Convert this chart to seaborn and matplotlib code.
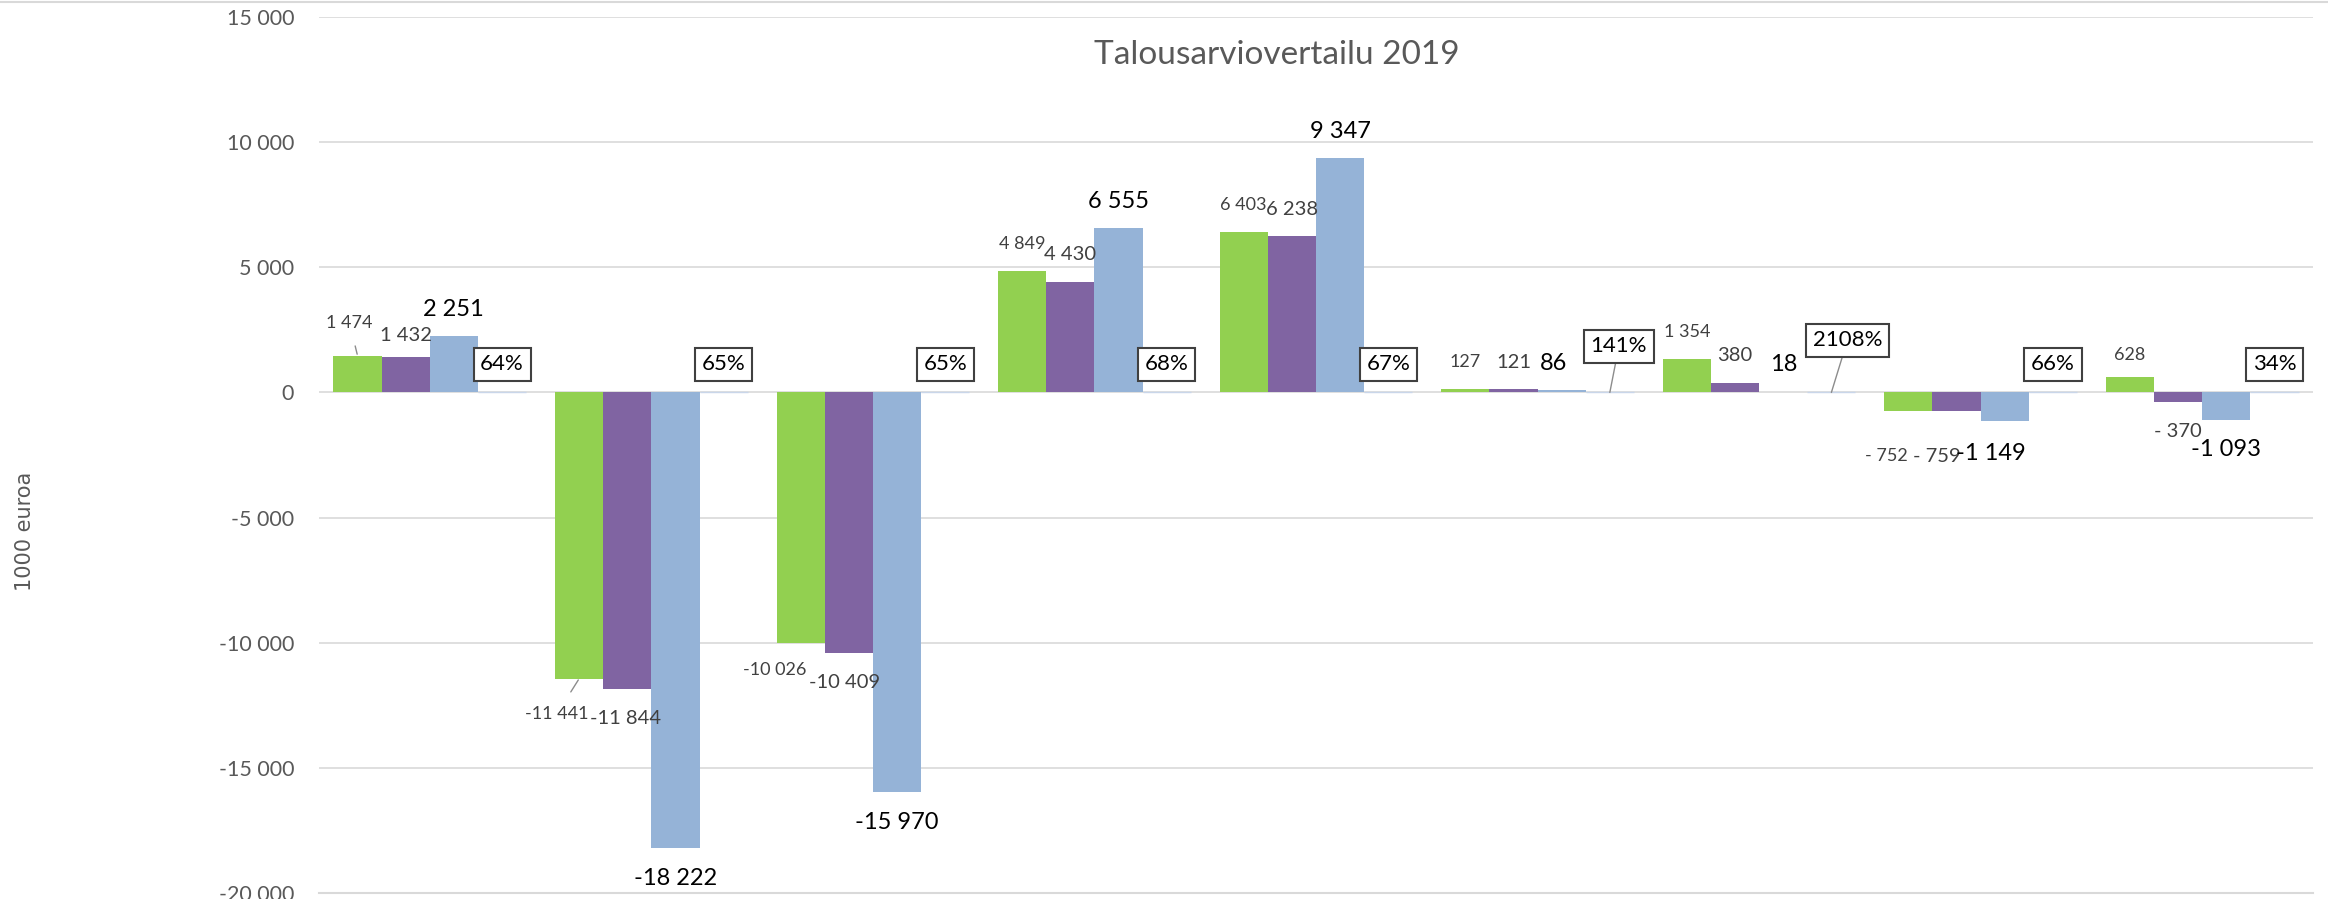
import pandas as pd
import matplotlib
matplotlib.use("Agg")
import matplotlib.pyplot as plt
import seaborn as sns
from matplotlib.ticker import FuncFormatter

# data (1000 euroa)
categories = ["1", "2", "3", "4", "5", "6", "7", "8", "9"]
series = ["Talousarvio", "Muutettu talousarvio", "Toteutuma", "Toteutuma-%"]
budget = [1474, -11441, -10026, 4849, 6403, 127, 1354, -752, 628]
revised = [1432, -11844, -10409, 4430, 6238, 121, 380, -759, -370]
actual = [2251, -18222, -15970, 6555, 9347, 86, 18, -1149, -1093]
pct = [64, 65, 65, 68, 67, 141, 2108, 66, 34]
y_ticks = [-20000, -15000, -10000, -5000, 0, 5000, 10000, 15000]

palette = ["#92D050", "#8064A2", "#95B3D7", "#C9D6EA"]

df = pd.DataFrame({
    "kategoria": categories * 4,
    "sarja": [s for s in series for _ in categories],
    "arvo": budget + revised + actual + [p / 100 for p in pct],
})

sns.set_style("white")
plt.rcParams["font.family"] = ["Lato", "DejaVu Sans"]

W, H = 2328, 899
fig = plt.figure(figsize=(W / 100, H / 100), dpi=100)
ax = fig.add_axes([319 / W, 6 / H, 1994 / W, 876 / H])

sns.barplot(data=df, x="kategoria", y="arvo", hue="sarja", palette=palette,
            saturation=1, width=0.87, linewidth=0, legend=False, ax=ax)

ax.set_ylim(-20000, 15000)
ax.set_xlim(-0.5, len(categories) - 0.5)
ax.set_axisbelow(True)
ax.yaxis.grid(True, color="#D9D9D9", linewidth=1.2)
ax.xaxis.grid(False)
for side in ["left", "top", "right"]:
    ax.spines[side].set_visible(False)
ax.spines["bottom"].set_color("#D9D9D9")
ax.spines["bottom"].set_linewidth(1.5)

def fmt_num(v, pad_minus=False):
    s = f"{int(v):,}".replace(",", " ")
    if pad_minus and v < 0 and abs(v) < 1000:
        s = "- " + s[1:]
    return s

ax.set_yticks(y_ticks)
ax.yaxis.set_major_formatter(FuncFormatter(lambda v, p: fmt_num(v)))
ax.tick_params(axis="y", length=0, pad=18, labelsize=15.5, labelcolor="#595959")
ax.set_xticks(range(len(categories)))
ax.set_xticks([i - 0.5 for i in range(len(categories) + 1)], minor=True)
ax.tick_params(axis="x", which="major", length=0, labelbottom=False)
ax.tick_params(axis="x", which="minor", length=6, width=1.5, color="#D9D9D9", direction="out")
ax.set_xlabel("")
ax.set_ylabel("")

# hairline for the percent series
for p in ax.containers[3]:
    p.set_edgecolor("#C9D6EA")
    p.set_linewidth(1.0)

# label nudges in pixels (dx, dy) and which get a leader line
nudge = {
    (0, 0): (-8, 6), (0, 1): (0, -6), (1, 0): (-22, 5), (1, 1): (-2, 0),
    (2, 0): (-26, -3), (2, 1): (-4, 0),
    (7, 0): (-22, 15), (7, 1): (-20, 15), (7, 2): (-14, 2), (5, 2): (-8, 0),
    (8, 0): (0, -5),
}
leaders = {(0, 0), (1, 0)}
styles = [
    dict(fontsize=13, color="#404040"),
    dict(fontsize=14.5, color="#404040"),
    dict(fontsize=17, color="black"),
]
values = [budget, revised, actual]

for s in range(3):
    for j, p in enumerate(ax.containers[s]):
        v = values[s][j]
        x = p.get_x() + p.get_width() / 2
        dx, dy = nudge.get((j, s), (0, 0))
        off = 27 + dy if v >= 0 else -(30 + dy)
        kw = dict(xy=(x, v), xytext=(dx, off), textcoords="offset pixels",
                  ha="center", va="center", **styles[s])
        if (j, s) in leaders:
            kw["arrowprops"] = dict(arrowstyle="-", color="#8C8C8C", lw=1,
                                    shrinkA=9, shrinkB=1)
        ax.annotate(fmt_num(v, pad_minus=(s < 2)), **kw)

box_nudge = {5: (9, 46), 6: (16, 52)}
for j, p in enumerate(ax.containers[3]):
    x = p.get_x() + p.get_width() / 2
    dx, dy = box_nudge.get(j, (0, 28))
    kw = dict(xy=(x, 0), xytext=(dx, dy), textcoords="offset pixels",
              ha="center", va="center", fontsize=16, color="black",
              bbox=dict(boxstyle="square,pad=0.3", fc="white", ec="#404040", lw=1.5))
    if j in box_nudge:
        kw["arrowprops"] = dict(arrowstyle="-", color="#8C8C8C", lw=1,
                                shrinkA=0, shrinkB=0)
    ax.annotate(f"{pct[j]}%", **kw)

fig.text(1277 / W, 1 - 55 / H, "Talousarviovertailu 2019", ha="center", va="center",
         fontsize=24, color="#595959")
fig.text(25 / W, 1 - 531 / H, "1000 euroa", rotation=90, ha="center", va="center",
         fontsize=15, color="#595959", family=["DejaVu Sans"])
fig.add_artist(plt.Line2D([0, 1], [1 - 2 / H, 1 - 2 / H], color="#D9D9D9", lw=1.5))

fig.savefig("out.png", dpi=100)
